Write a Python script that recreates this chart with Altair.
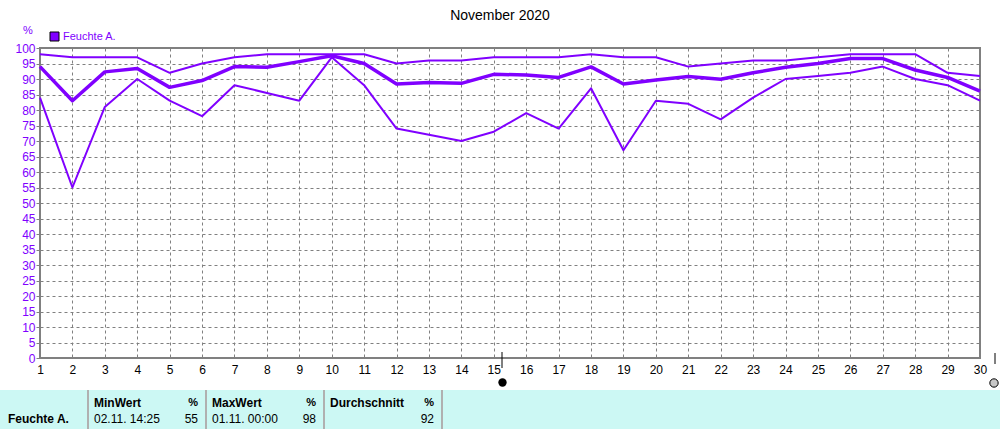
import altair as alt
import pandas as pd

days = list(range(1, 31))
max_vals = [98, 97, 97, 97, 92, 95, 97, 98, 98, 98, 98, 95, 96, 96, 97,
            97, 97, 98, 97, 97, 94, 95, 96, 96, 97, 98, 98, 98, 92, 91]
avg_vals = [94, 83, 92.3, 93.4, 87.3, 89.5, 94, 93.8, 95.6, 97.5, 95, 88.4, 88.9, 88.6, 91.5,
            91.3, 90.5, 93.9, 88.4, 89.7, 90.8, 89.9, 92, 93.8, 95, 96.6, 96.6, 92.9, 90.5, 86.1]
min_vals = [84, 55, 81, 90, 83, 78, 88, 85.5, 83, 97, 88, 74, 72, 70, 73,
            79, 74, 87, 67, 83, 82, 77, 84, 90, 91, 92, 94, 90, 88, 83]
series_names = ["Max", "Mittel", "Min"]
series_widths = [2, 3.5, 2]
y_ticks = list(range(0, 101, 5))

title_text = "November 2020"
unit_text = "%"
legend_label = "Feuchte A."
table_row = "Feuchte A."
table_headers = ["MinWert", "MaxWert", "Durchschnitt"]
table_times = ["02.11.  14:25", "01.11.  00:00", ""]
table_values = ["55", "98", "92"]

PURPLE = "#8000ff"
GRID = "#808080"
FONT = "Liberation Sans"
L, T = 40, 48  # plot origin in page pixels

rows = []
for name, vals in zip(series_names, [max_vals, avg_vals, min_vals]):
    for d, v in zip(days, vals):
        rows.append({"day": d, "series": name, "value": v})
df = pd.DataFrame(rows)

x_enc = alt.X("day:Q", scale=alt.Scale(domain=[1, 30], nice=False, zero=False),
              axis=alt.Axis(values=days, title=None, grid=True, gridDash=[3, 3],
                            gridColor=GRID, gridOpacity=1, ticks=False, labelPadding=6,
                            labelColor="black", labelFontSize=12, labelFont=FONT,
                            domain=False, labelFlush=False, labelOverlap=False))
y_enc = alt.Y("value:Q", scale=alt.Scale(domain=[0, 100], nice=False),
              axis=alt.Axis(values=y_ticks, title=None, grid=True, gridDash=[3, 3],
                            gridColor=GRID, gridOpacity=1, tickSize=4, tickColor=GRID,
                            labelPadding=1, labelColor=PURPLE, labelFontSize=12,
                            labelFont=FONT, domain=False, labelFlush=False,
                            labelOverlap=False))

layers = []
for name, w in zip(series_names, series_widths):
    layers.append(alt.Chart(df).transform_filter(alt.datum.series == name).mark_line(
        color=PURPLE, strokeWidth=w, strokeJoin="round").encode(x=x_enc, y=y_enc))


def px(x):
    return alt.value(x - L)


def py(y):
    return alt.value(y - T)


def txt(text, x, y, align="left", size=11, bold=False, color="black"):
    return alt.Chart(pd.DataFrame({"t": [text]})).mark_text(
        align=align, baseline="middle", fontSize=size, font=FONT,
        fontWeight="bold" if bold else "normal", color=color
    ).encode(text="t:N", x=px(x), y=py(y))


# title, unit, legend
layers.append(txt(title_text, 500, 16, align="center", size=14))
layers.append(txt(unit_text, 28, 31, align="center", size=11, color=PURPLE))
layers.append(alt.Chart(pd.DataFrame({"a": [0]})).mark_rect(
    color=PURPLE, stroke="black", strokeWidth=1).encode(
    x=px(50), x2=px(59), y=py(32), y2=py(41)))
layers.append(txt(legend_label, 63, 37, size=11, color=PURPLE))

# scroll markers
layers.append(alt.Chart(pd.DataFrame({"a": [0]})).mark_rule(color="black").encode(
    x=px(502), y=py(352), y2=py(368)))
layers.append(alt.Chart(pd.DataFrame({"a": [0]})).mark_point(
    filled=True, color="black", size=70, opacity=1, shape="circle").encode(
    x=px(502.5), y=py(382.5)))
layers.append(alt.Chart(pd.DataFrame({"a": [0]})).mark_rule(color="black").encode(
    x=px(995), y=py(353), y2=py(364)))
layers.append(alt.Chart(pd.DataFrame({"a": [0]})).mark_point(
    filled=True, color="#c8c8c8", stroke="black", strokeWidth=1, size=70, opacity=1,
    shape="circle").encode(x=px(994), y=py(383)))

# table
layers.append(alt.Chart(pd.DataFrame({"a": [0]})).mark_rect(color="#ccf8f4").encode(
    x=px(0), x2=px(1000), y=py(390), y2=py(429)))
for xd in [88, 206, 324, 442]:
    layers.append(alt.Chart(pd.DataFrame({"a": [0]})).mark_rule(color="#b0b0b0", strokeWidth=2).encode(
        x=px(xd), y=py(390), y2=py(429)))
layers.append(txt(table_row, 8, 419, bold=True, size=12))
col_left = [94, 212, 330]
col_right = [198, 316, 434]
for h, t, v, xl, xr in zip(table_headers, table_times, table_values, col_left, col_right):
    layers.append(txt(h, xl, 403, bold=True, size=12))
    layers.append(txt(unit_text, xr, 403, align="right", bold=True, size=11))
    if t:
        layers.append(txt(t, xl, 419, size=12))
    layers.append(txt(v, xr, 419, align="right", size=12))

chart = alt.layer(*layers).properties(
    width=940, height=310,
    autosize=alt.AutoSizeParams(type="none"),
    padding={"left": L, "top": T, "right": 20, "bottom": 71},
    background="white",
).configure_view(stroke=GRID, strokeWidth=2)

chart.save("out.html", embed_options={"renderer": "svg", "actions": False})
